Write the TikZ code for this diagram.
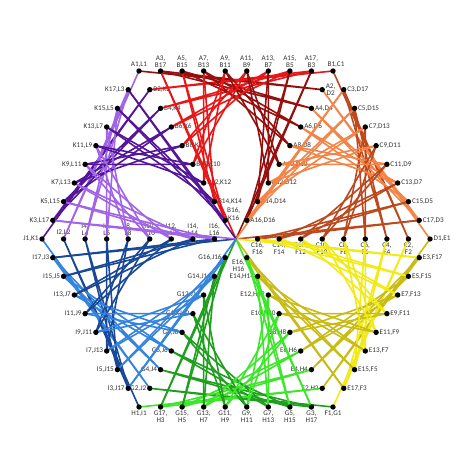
\documentclass[tikz,border=0pt]{standalone}
\usepackage{fontspec}
\setmainfont{Carlito}
\usetikzlibrary{calc}
\definecolor{cA}{RGB}{150,15,15}
\definecolor{cB}{RGB}{232,22,22}
\definecolor{cC}{RGB}{188,72,30}
\definecolor{cD}{RGB}{242,132,72}
\definecolor{cE}{RGB}{200,188,20}
\definecolor{cF}{RGB}{242,234,20}
\definecolor{cG}{RGB}{30,160,30}
\definecolor{cH}{RGB}{60,230,40}
\definecolor{cI}{RGB}{25,72,150}
\definecolor{cJ}{RGB}{52,132,222}
\definecolor{cK}{RGB}{84,22,152}
\definecolor{cL}{RGB}{162,100,230}
\definecolor{lbltext}{RGB}{50,50,50}
\begin{document}
\begin{tikzpicture}[x=1bp,y=-1bp,
  lbl/.style={font=\fontsize{7.2}{7.4}\selectfont, text=lbltext, inner sep=0.8bp, align=center},
  dotn/.style={circle, fill=black, inner sep=0pt, minimum size=5.4bp},
  strand/.style={line width=1.6bp, line cap=round}]
\useasboundingbox (0,0) rectangle (474,474);
\coordinate (O) at (236,239);
\coordinate (V0) at (139,71);
\coordinate (V1) at (333,71);
\coordinate (V2) at (430,239);
\coordinate (V3) at (333,407);
\coordinate (V4) at (139,407);
\coordinate (V5) at (42,239);
\foreach \i in {0,...,5} {
  \pgfmathtruncatemacro\n{mod(\i+1,6)}
  \foreach \j in {0,...,9} {
    \coordinate (E\i-\j) at ($(V\i)!\j/9!(V\n)$);
    \coordinate (S\i-\j) at ($(V\i)!\j/9!(O)$);
  }
}
% labels on the edges
\foreach \i/\la/\lb/\pos in {0/A/B/above,3/G/H/below} {
  \foreach \j in {1,...,8} {
    \pgfmathtruncatemacro\p{2*\j+1}
    \pgfmathtruncatemacro\q{19-2*\j}
    \node[lbl,\pos=2.4bp] (te\i-\j) at (E\i-\j) {\la\p,\\\lb\q};
  }
}
\foreach \i/\la/\lb/\pos in {1/C/D/right,2/E/F/right,4/I/J/left,5/K/L/left} {
  \foreach \j in {1,...,8} {
    \pgfmathtruncatemacro\p{2*\j+1}
    \pgfmathtruncatemacro\q{19-2*\j}
    \node[lbl,\pos=2.6bp] (te\i-\j) at (E\i-\j) {\la\p,\lb\q};
  }
}
% vertex labels
\node[lbl,above=2.4bp] (tv0) at (V0) {A1,L1};
\node[lbl,above=2.4bp,xshift=3bp] (tv1) at (V1) {B1,C1};
\node[lbl,right=2.6bp] (tv2) at (V2) {D1,E1};
\node[lbl,below=2.4bp] (tv3) at (V3) {F1,G1};
\node[lbl,below=2.4bp] (tv4) at (V4) {H1,I1};
\node[lbl,left=2.6bp] (tv5) at (V5) {J1,K1};
% labels on the spokes
\foreach \k in {1,...,7} {
  \pgfmathtruncatemacro\p{2*\k}
  \node[lbl,right=2.6bp] (ts0-\k) at (S0-\k) {B\p,K\p};
}
\node[lbl,anchor=south west] (ts0-8) at ($(S0-8)+(1,1)$) {B16,\\K16};
\node[lbl,right=2.6bp] (ts1-1) at (S1-1) {A2,\\D2};
\foreach \k in {2,...,8} {
  \pgfmathtruncatemacro\p{2*\k}
  \node[lbl,right=2.6bp] (ts1-\k) at (S1-\k) {A\p,D\p};
}
\foreach \k in {1,...,8} {
  \pgfmathtruncatemacro\p{2*\k}
  \node[lbl,below=2.4bp] (ts2-\k) at (S2-\k) {C\p,\\F\p};
}
\foreach \k in {1,...,7} {
  \pgfmathtruncatemacro\p{2*\k}
  \node[lbl,left=2.6bp] (ts3-\k) at (S3-\k) {E\p,H\p};
}
\node[lbl,anchor=north east] (ts3-8) at ($(S3-8)+(-1,1)$) {E16,\\H16};
\foreach \k in {1,...,8} {
  \pgfmathtruncatemacro\p{2*\k}
  \node[lbl,left=2.6bp] (ts4-\k) at (S4-\k) {G\p,J\p};
}
\node[lbl,above=2.4bp] (ts5-1) at (S5-1) {I2,L2};
\foreach \k in {2,...,8} {
  \pgfmathtruncatemacro\p{2*\k}
  \node[lbl,above=2.4bp] (ts5-\k) at (S5-\k) {I\p,\\L\p};
}
% strings
\foreach \i/\ca/\cb in {0/cA/cB,1/cC/cD,2/cE/cF,3/cG/cH,4/cI/cJ,5/cK/cL} {
  \pgfmathtruncatemacro\n{mod(\i+1,6)}
  \foreach \k in {1,...,8} {
    \pgfmathtruncatemacro\km{\k-1}
    \pgfmathtruncatemacro\ka{10-\k}
    \pgfmathtruncatemacro\kb{9-\k}
    \draw[strand,\ca] (E\i-\km) -- (S\n-\k) -- (E\i-\k);
    \draw[strand,\cb] (E\i-\ka) -- (S\i-\k) -- (E\i-\kb);
  }
  \draw[strand,\ca] (E\i-8) -- (O);
  \draw[strand,\cb] (E\i-1) -- (O);
}
% dots
\foreach \i in {0,...,5} {
  \node[dotn] (dv\i) at (V\i) {};
  \foreach \j in {1,...,8} {
    \node[dotn] (de\i-\j) at (E\i-\j) {};
    \node[dotn] (ds\i-\j) at (S\i-\j) {};
  }
}
\end{tikzpicture}
\end{document}
